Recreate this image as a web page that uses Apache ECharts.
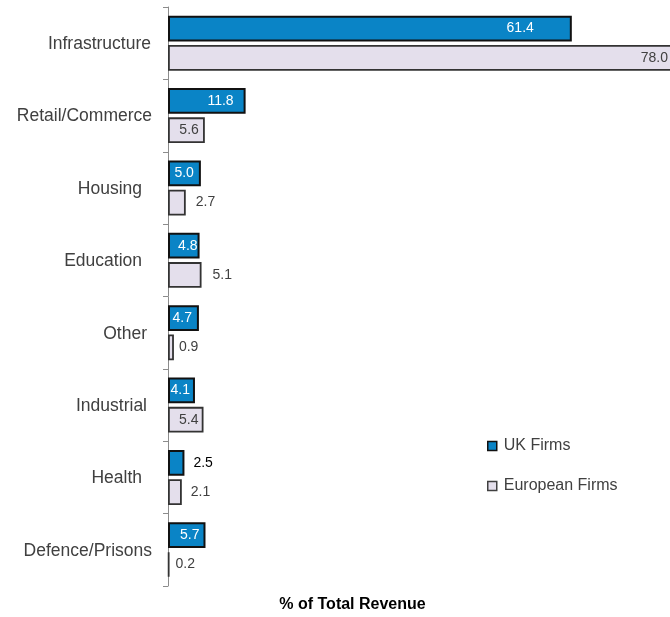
<!DOCTYPE html>
<html>
<head>
<meta charset="utf-8">
<title>% of Total Revenue by Sector</title>
<script src="https://cdn.jsdelivr.net/npm/echarts@6/dist/echarts.min.js"></script>
<style>
  html, body { margin: 0; padding: 0; background: #ffffff; }
  #chart { width: 670px; height: 617px; }
</style>
</head>
<body>
<div id="chart"></div>
<script>
// Sectors, top to bottom
const categories = ['Infrastructure', 'Retail/Commerce', 'Housing', 'Education', 'Other', 'Industrial', 'Health', 'Defence/Prisons'];
// Share of total revenue (%)
const ukFirms = [61.4, 11.8, 5.0, 4.8, 4.7, 4.1, 2.5, 5.7];
const europeanFirms = [78.0, 5.6, 2.7, 5.1, 0.9, 5.4, 2.1, 0.2];
const seriesNames = ['UK Firms', 'European Firms'];
const axisTitle = '% of Total Revenue';

const FONT = '"Liberation Sans", Arial, sans-serif';

// Where each value label sits: sectors whose label goes outside the bar
const ukOutside = ['Health'];
const euOutside = ['Housing', 'Education', 'Other', 'Health', 'Defence/Prisons'];
// Label gap from the bar end (px)
const ukGap = { 'Infrastructure': 38, 'Retail/Commerce': 12, 'Housing': 7, 'Education': 2, 'Other': 7, 'Industrial': 5, 'Health': 9, 'Defence/Prisons': 6 };
const euGap = { 'Infrastructure': 13, 'Retail/Commerce': 6, 'Housing': 10, 'Education': 11, 'Other': 5, 'Industrial': 5, 'Health': 9, 'Defence/Prisons': 6 };
// Extra right padding of each category label (px)
const catPad = { 'Infrastructure': 1, 'Retail/Commerce': 0, 'Housing': 10, 'Education': 10, 'Other': 5, 'Industrial': 5, 'Health': 10, 'Defence/Prisons': 0 };

function buildData(values, outside, gaps, insideColor, outsideColor) {
  return values.map((v, i) => {
    const cat = categories[i];
    const out = outside.includes(cat);
    return {
      value: v,
      label: {
        position: out ? 'right' : 'insideRight',
        distance: gaps[cat],
        color: out ? outsideColor : insideColor
      }
    };
  });
}

const rich = {};
categories.forEach((c, i) => {
  rich['c' + i] = { fontSize: 17.5, fontFamily: FONT, color: '#404040', padding: [2, catPad[c], 0, 0] };
});

const chart = echarts.init(document.getElementById('chart'), null, { renderer: 'canvas' });
chart.setOption({
  animation: false,
  backgroundColor: '#ffffff',
  textStyle: { fontFamily: FONT },
  // the plot runs slightly past the right edge of the canvas
  grid: { left: 168, width: 513, top: 7, bottom: 31, containLabel: false, outerBoundsMode: 'none' },
  xAxis: {
    type: 'value',
    min: 0,
    max: 78,
    show: false
  },
  yAxis: {
    type: 'category',
    inverse: true,
    data: categories,
    axisLine: { show: true, lineStyle: { color: '#8c8c8c', width: 1 } },
    axisTick: { show: true, length: 5, lineStyle: { color: '#8c8c8c' } },
    axisLabel: {
      margin: 16,
      formatter: (val, idx) => '{c' + idx + '|' + val + '}',
      rich: rich
    },
    splitLine: { show: false }
  },
  legend: {
    orient: 'vertical',
    left: 482,
    top: 433,
    itemWidth: 9,
    itemHeight: 9,
    itemGap: 24,
    icon: 'rect',
    textStyle: { fontSize: 16, color: '#404040', fontFamily: FONT, padding: [0, 0, 0, 2] },
    data: [
      { name: seriesNames[0], itemStyle: { color: '#0a84c6', borderColor: '#111111', borderWidth: 1.5 } },
      { name: seriesNames[1], itemStyle: { color: '#e4dfec', borderColor: '#404040', borderWidth: 1.5 } }
    ]
  },
  graphic: [{
    type: 'text',
    x: 352.5,
    y: 605,
    style: {
      text: axisTitle,
      font: 'bold 16px ' + FONT,
      fill: '#000000',
      textAlign: 'center',
      textVerticalAlign: 'middle'
    }
  }],
  series: [
    {
      name: seriesNames[0],
      type: 'bar',
      barCategoryGap: '24%',
      barGap: '14%',
      itemStyle: { color: '#0a84c6', borderColor: '#111111', borderWidth: 2 },
      label: { show: true, fontSize: 14, fontFamily: FONT, formatter: p => p.value.toFixed(1) },
      data: buildData(ukFirms, ukOutside, ukGap, '#ffffff', '#000000')
    },
    {
      name: seriesNames[1],
      type: 'bar',
      barCategoryGap: '24%',
      barGap: '14%',
      itemStyle: { color: '#e4dfec', borderColor: '#333333', borderWidth: 1.8 },
      label: { show: true, fontSize: 14, fontFamily: FONT, formatter: p => p.value.toFixed(1) },
      data: buildData(europeanFirms, euOutside, euGap, '#404040', '#404040')
    }
  ]
});
</script>
</body>
</html>
